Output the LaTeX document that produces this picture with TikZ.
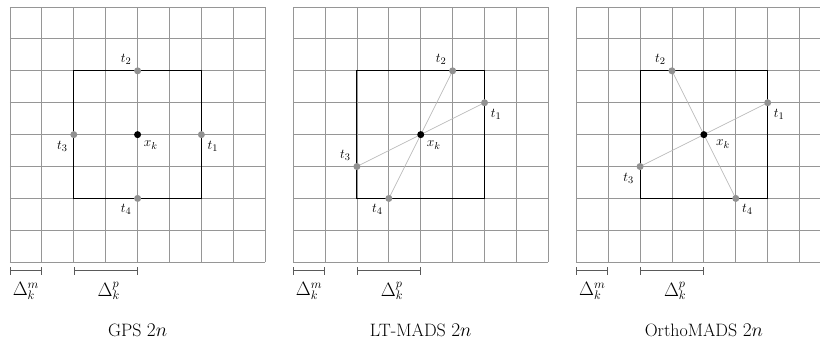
\documentclass[tikz,border=0pt]{standalone}
\usepackage{tikz}
\usetikzlibrary{positioning}
\definecolor{gridgray}{RGB}{150,150,150}
\definecolor{dotgray}{RGB}{145,145,145}
\definecolor{linkgray}{RGB}{185,185,185}
\definecolor{bargray}{RGB}{90,90,90}

\begin{document}
\begin{tikzpicture}[
    meshline/.style={gridgray, line width=0.75pt},
    frame/.style={black, line width=0.9pt},
    link/.style={linkgray, line width=0.6pt},
    pt/.style={circle, fill=dotgray, inner sep=0pt, minimum size=2.2mm},
    center/.style={circle, fill=black, inner sep=0pt, minimum size=2.2mm},
    lbl/.style={font=\fontsize{13}{15}\selectfont, inner sep=1pt},
    sizebar/.style={bargray, line width=0.8pt},
    caption/.style={font=\fontsize{16}{19}\selectfont}
]

% Canvas
\path[use as bounding box] (-0.313,-2.665) rectangle (25.39,8.22);
\clip (-0.313,-2.665) rectangle (25.39,8.22);

% GPS 2n
\begin{scope}
\draw[meshline] (0,0) grid (8,8);
\draw[frame] (2,2) rectangle (6,6);
\node[center, label={[lbl, label distance=1mm]-45:$x_k$}] (gps-xk) at (4,4) {};
\node[pt, label={[lbl, label distance=1mm]-45:$t_1$}] (gps-t1) at (6,4) {};
\node[pt, label={[lbl, label distance=1mm]135:$t_2$}] (gps-t2) at (4,6) {};
\node[pt, label={[lbl, label distance=1mm]-135:$t_3$}] (gps-t3) at (2,4) {};
\node[pt, label={[lbl, label distance=1mm]-135:$t_4$}] (gps-t4) at (4,2) {};
\coordinate (gps-m0) at (0,-0.27);
\coordinate (gps-m1) at (1,-0.27);
\coordinate (gps-p0) at (2,-0.27);
\coordinate (gps-p1) at (4,-0.27);
\draw[sizebar, |-|] (gps-m0) -- (gps-m1);
\draw[sizebar, |-|] (gps-p0) -- (gps-p1);
\node[caption] (gps-dm) at (0.5,-0.9) {$\Delta_k^m$};
\node[caption] (gps-dp) at (3.1,-0.9) {$\Delta_k^p$};
\node[caption] (gps-name) at (4,-2.13) {GPS $2n$};
\end{scope}

% LT-MADS 2n
\begin{scope}[xshift=8.875cm]
\draw[meshline] (0,0) grid (8,8);
\draw[frame] (2,2) rectangle (6,6);
\coordinate (lt-c1) at (6,5);
\coordinate (lt-c2) at (5,6);
\coordinate (lt-c3) at (2,3);
\coordinate (lt-c4) at (3,2);
\draw[link] (lt-c1) -- (lt-c3);
\draw[link] (lt-c2) -- (lt-c4);
\node[center, label={[lbl, label distance=1mm]-45:$x_k$}] (lt-xk) at (4,4) {};
\node[pt, label={[lbl, label distance=1mm]-45:$t_1$}] (lt-t1) at (lt-c1) {};
\node[pt, label={[lbl, label distance=1mm]135:$t_2$}] (lt-t2) at (lt-c2) {};
\node[pt, label={[lbl, label distance=1mm]135:$t_3$}] (lt-t3) at (lt-c3) {};
\node[pt, label={[lbl, label distance=1mm]-135:$t_4$}] (lt-t4) at (lt-c4) {};
\coordinate (lt-m0) at (0,-0.27);
\coordinate (lt-m1) at (1,-0.27);
\coordinate (lt-p0) at (2,-0.27);
\coordinate (lt-p1) at (4,-0.27);
\draw[sizebar, |-|] (lt-m0) -- (lt-m1);
\draw[sizebar, |-|] (lt-p0) -- (lt-p1);
\node[caption] (lt-dm) at (0.5,-0.9) {$\Delta_k^m$};
\node[caption] (lt-dp) at (3.1,-0.9) {$\Delta_k^p$};
\node[caption] (lt-name) at (4,-2.13) {LT-MADS $2n$};
\end{scope}

% OrthoMADS 2n
\begin{scope}[xshift=17.75cm]
\draw[meshline] (0,0) grid (8,8);
\draw[frame] (2,2) rectangle (6,6);
\coordinate (om-c1) at (6,5);
\coordinate (om-c2) at (3,6);
\coordinate (om-c3) at (2,3);
\coordinate (om-c4) at (5,2);
\draw[link] (om-c1) -- (om-c3);
\draw[link] (om-c2) -- (om-c4);
\node[center, label={[lbl, label distance=2.5mm]-20:$x_k$}] (om-xk) at (4,4) {};
\node[pt, label={[lbl, label distance=1mm]-45:$t_1$}] (om-t1) at (om-c1) {};
\node[pt, label={[lbl, label distance=1mm]135:$t_2$}] (om-t2) at (om-c2) {};
\node[pt, label={[lbl, label distance=1mm]-135:$t_3$}] (om-t3) at (om-c3) {};
\node[pt, label={[lbl, label distance=1mm]-45:$t_4$}] (om-t4) at (om-c4) {};
\coordinate (om-m0) at (0,-0.27);
\coordinate (om-m1) at (1,-0.27);
\coordinate (om-p0) at (2,-0.27);
\coordinate (om-p1) at (4,-0.27);
\draw[sizebar, |-|] (om-m0) -- (om-m1);
\draw[sizebar, |-|] (om-p0) -- (om-p1);
\node[caption] (om-dm) at (0.5,-0.9) {$\Delta_k^m$};
\node[caption] (om-dp) at (3.1,-0.9) {$\Delta_k^p$};
\node[caption] (om-name) at (4,-2.13) {OrthoMADS $2n$};
\end{scope}

\end{tikzpicture}
\end{document}
